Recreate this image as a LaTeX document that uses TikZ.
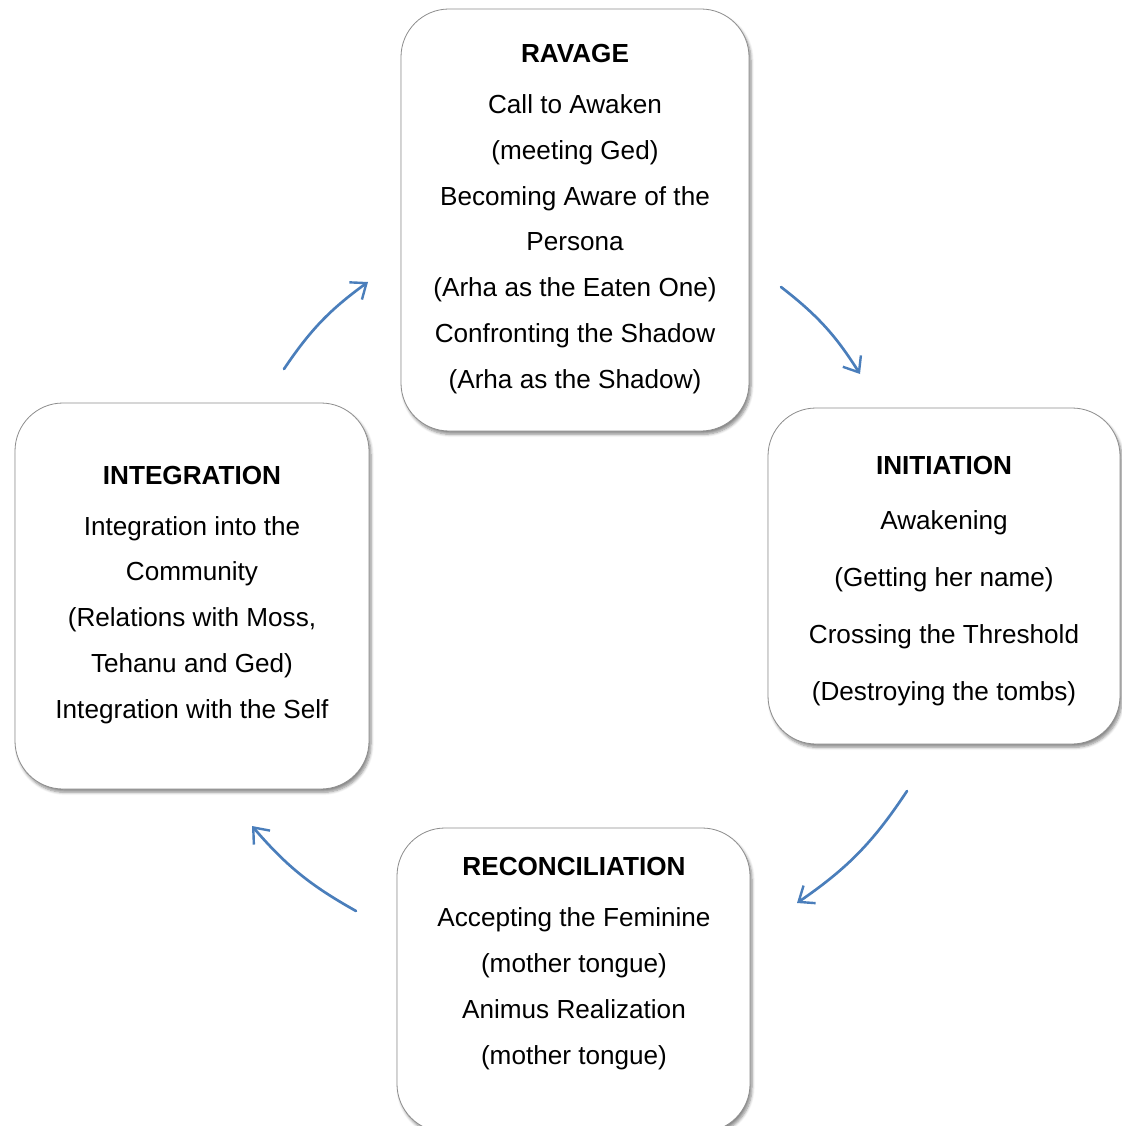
\documentclass[tikz,border=0pt]{standalone}
\usepackage{fontspec}
\setmainfont{Liberation Sans}
\usetikzlibrary{arrows.meta,shadows.blur}
\definecolor{cycleblue}{HTML}{4A7EBB}
\definecolor{boxline}{HTML}{8C8C8C}
\begin{document}
\begin{tikzpicture}[x=0.75pt,y=-0.75pt,
  stage/.style={draw=boxline, line width=0.6pt, fill=white,
    rounded corners=36pt, inner sep=0pt,
    blur shadow={shadow xshift=1.5pt, shadow yshift=-2.5pt,
      shadow blur steps=6, shadow opacity=45}},
  % anchored at the baseline of the last line of each text block
  stagetext/.style={anchor=base, align=center, inner sep=0pt,
    font=\fontsize{19.6}{34.3}\selectfont},
  cyclearrow/.style={draw=cycleblue, line width=2pt, line cap=round,
    -{Straight Barb[length=10pt, width=16pt, line width=1.8pt]}}]

\useasboundingbox (0,0) rectangle (1121,1126);

% stage boxes
\node[stage, minimum width=261pt, minimum height=316.5pt] (ravage) at (575,220) {};
\node[stage, minimum width=264pt, minimum height=252pt] (initiation) at (944,576) {};
\node[stage, minimum width=265.5pt, minimum height=289.5pt] (integration) at (192,596) {};
\node[stage, minimum width=264.75pt, minimum height=228pt] (reconciliation) at (573.5,980) {};

% stage texts
\node[stagetext] (ravagetxt) at (575,388) {\textbf{RAVAGE}\\[4pt]
  Call to Awaken\\(meeting Ged)\\Becoming Aware of the\\Persona\\
  (Arha as the Eaten One)\\Confronting the Shadow\\(Arha as the Shadow)};
\node[stagetext, font=\fontsize{19.6}{42.75}\selectfont] (initiationtxt) at (944,700)
  {\textbf{INITIATION}\\[-1.5pt]
  Awakening\\(Getting her name)\\Crossing the Threshold\\(Destroying the tombs)};
\node[stagetext] (integrationtxt) at (192,718) {\textbf{INTEGRATION}\\[4pt]
  Integration into the\\Community\\(Relations with Moss,\\Tehanu and Ged)\\
  Integration with the Self};
\node[stagetext] (reconciliationtxt) at (574,1064) {\textbf{RECONCILIATION}\\[4pt]
  Accepting the Feminine\\(mother tongue)\\Animus Realization\\(mother tongue)};

% cycle arrows
\coordinate (a1s) at (284,369);  \coordinate (a1e) at (368,282);
\coordinate (a2s) at (781,287);  \coordinate (a2e) at (860,374);
\coordinate (a3s) at (907,791);  \coordinate (a3e) at (797,903);
\coordinate (a4s) at (356,911);  \coordinate (a4e) at (252,826);
\draw[cyclearrow] (a1s) to[bend left=10] (a1e);
\draw[cyclearrow] (a2s) to[bend left=10] (a2e);
\draw[cyclearrow] (a3s) to[bend left=11] (a3e);
\draw[cyclearrow] (a4s) to[bend left=10] (a4e);
\end{tikzpicture}
\end{document}
